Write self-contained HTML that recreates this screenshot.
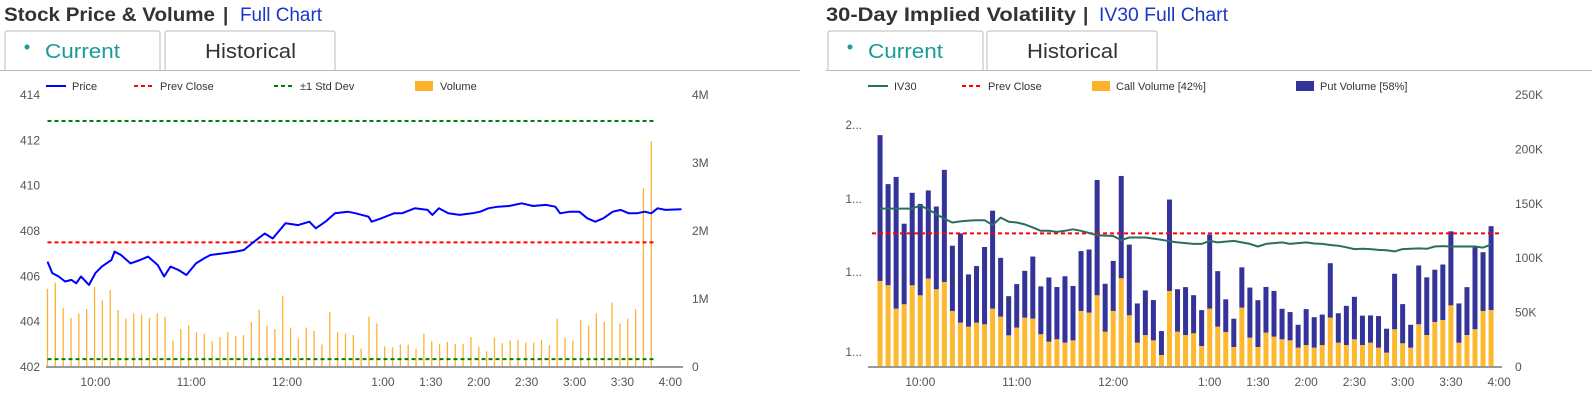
<!DOCTYPE html>
<html><head><meta charset="utf-8">
<style>
body{margin:0;background:#fff;font-family:"Liberation Sans",sans-serif;}
svg{display:block}
text{font-family:"Liberation Sans",sans-serif;}
</style></head>
<body>
<svg id="s" width="1592" height="401" xmlns="http://www.w3.org/2000/svg">
<g>
<text x="4" y="21" font-size="19" font-weight="bold" fill="#333" textLength="211" lengthAdjust="spacingAndGlyphs">Stock Price &amp; Volume</text>
<text x="223" y="21" font-size="19" font-weight="bold" fill="#333">|</text>
<text x="240" y="21" font-size="19" fill="#1a37c5" textLength="82" lengthAdjust="spacingAndGlyphs">Full Chart</text>
<path d="M5 70 V33 a2 2 0 0 1 2 -2 H158 a2 2 0 0 1 2 2 V70" fill="#fff" stroke="#bbb"/>
<circle cx="27" cy="47" r="2.5" fill="#1a9a9a"/>
<text x="45" y="58" font-size="20" fill="#1a9a9a" textLength="75" lengthAdjust="spacingAndGlyphs">Current</text>
<path d="M165 70 V33 a2 2 0 0 1 2 -2 H333 a2 2 0 0 1 2 2 V70" fill="#fff" stroke="#bbb"/>
<text x="205" y="58" font-size="20" fill="#333" textLength="91" lengthAdjust="spacingAndGlyphs">Historical</text>
<line x1="0" y1="70.5" x2="800" y2="70.5" stroke="#bbb"/>
</g>
<g>
<text x="826" y="21" font-size="19" font-weight="bold" fill="#333" textLength="250" lengthAdjust="spacingAndGlyphs">30-Day Implied Volatility</text>
<text x="1083" y="21" font-size="19" font-weight="bold" fill="#333">|</text>
<text x="1099" y="21" font-size="19" fill="#1a37c5" textLength="129" lengthAdjust="spacingAndGlyphs">IV30 Full Chart</text>
<path d="M828 70 V33 a2 2 0 0 1 2 -2 H981 a2 2 0 0 1 2 2 V70" fill="#fff" stroke="#bbb"/>
<circle cx="850" cy="47" r="2.5" fill="#1a9a9a"/>
<text x="868" y="58" font-size="20" fill="#1a9a9a" textLength="75" lengthAdjust="spacingAndGlyphs">Current</text>
<path d="M987 70 V33 a2 2 0 0 1 2 -2 H1155 a2 2 0 0 1 2 2 V70" fill="#fff" stroke="#bbb"/>
<text x="1027" y="58" font-size="20" fill="#333" textLength="91" lengthAdjust="spacingAndGlyphs">Historical</text>
<line x1="826" y1="70.5" x2="1592" y2="70.5" stroke="#bbb"/>
</g>
<g>
<line x1="46" y1="86" x2="66" y2="86" stroke="#0000ff" stroke-width="2"/>
<text x="72" y="90" font-size="11" fill="#333">Price</text>
<line x1="134" y1="86" x2="154" y2="86" stroke="#ff0000" stroke-width="2" stroke-dasharray="4,3"/>
<text x="160" y="90" font-size="11" fill="#333">Prev Close</text>
<line x1="274" y1="86" x2="294" y2="86" stroke="#008000" stroke-width="2" stroke-dasharray="4,3"/>
<text x="300" y="90" font-size="11" fill="#333">±1 Std Dev</text>
<rect x="415" y="81" width="18" height="10" fill="#fdb12c"/>
<text x="440" y="90" font-size="11" fill="#333">Volume</text>
</g>
<g>
<line x1="868" y1="86" x2="888" y2="86" stroke="#2a6e62" stroke-width="2"/>
<text x="894" y="90" font-size="11" fill="#333">IV30</text>
<line x1="962" y1="86" x2="982" y2="86" stroke="#ff0000" stroke-width="2" stroke-dasharray="4,3"/>
<text x="988" y="90" font-size="11" fill="#333">Prev Close</text>
<rect x="1092" y="81" width="18" height="10" fill="#fdb12c"/>
<text x="1116" y="90" font-size="11" fill="#333">Call Volume [42%]</text>
<rect x="1296" y="81" width="18" height="10" fill="#33339a"/>
<text x="1320" y="90" font-size="11" fill="#333">Put Volume [58%]</text>
</g>
<g id="left"></g>
<g id="right"></g>
</svg>
<script>
// ---- Stock chart data ----
const priceTicks = [402,404,406,408,410,412,414];
const volTickLabels = ['0','1M','2M','3M','4M'];
const timeLabels = ['10:00','11:00','12:00','1:00','1:30','2:00','2:30','3:00','3:30','4:00'];
const timeLabelMinutes = [30,90,150,210,240,270,300,330,360,390];
const priceMinutes = [0,3,7,11,15,18,21,26,30,34,40,42,46,52,58,63,69,73,77,82,87,93,98,102,110,118,123,128,136,141,149,157,164,168,174,180,188,193,201,203,209,217,222,230,238,241,245,251,258,266,271,276,282,289,297,304,312,318,321,327,333,338,343,348,354,359,364,369,374,378,382,387,397];
const prices = [406.65,406.14,405.99,405.77,405.84,405.69,405.99,405.62,406.14,406.43,406.72,407.09,406.94,406.57,406.72,406.87,406.50,405.99,406.43,406.28,406.06,406.57,406.79,406.94,407.01,407.09,407.16,407.45,407.89,407.67,408.34,408.26,408.41,408.12,408.41,408.78,408.85,408.78,408.63,408.41,408.56,408.78,408.78,409.00,408.93,408.71,409.00,408.78,408.71,408.78,408.85,409.00,409.07,409.10,409.22,409.10,409.15,409.07,408.78,408.85,408.85,408.56,408.41,408.56,408.85,408.93,408.78,408.78,408.85,408.78,409.00,408.93,408.96];
const volumeM = [1.15,1.24,0.87,0.72,0.79,0.85,1.18,0.98,1.13,0.84,0.71,0.79,0.77,0.72,0.79,0.74,0.39,0.56,0.61,0.51,0.49,0.38,0.44,0.51,0.46,0.47,0.66,0.84,0.61,0.56,1.05,0.58,0.42,0.58,0.53,0.33,0.81,0.51,0.49,0.47,0.27,0.74,0.64,0.30,0.29,0.33,0.33,0.27,0.49,0.38,0.34,0.37,0.34,0.34,0.44,0.30,0.23,0.43,0.35,0.39,0.40,0.36,0.36,0.40,0.32,0.71,0.43,0.39,0.69,0.61,0.79,0.66,0.95,0.64,0.71,0.85,2.63,3.32];
const volumeIntervalMin = 4.91;
const prevClose = 407.5;
const stdUpper = 412.85, stdLower = 402.35;
const refLineEndMin = 381;

// ---- IV chart data ----
const ivTickLabels = ['2...','1...','1...','1...'];
const ivTickValues = [20,18,16,14];
const optVolTickLabels = ['0','50K','100K','150K','200K','250K'];
const callVolK = [79.1,75.1,53.7,57.7,75.1,65.9,81.3,71.5,78.2,51.5,40.8,37.1,40.8,39.3,53.7,46.3,29.1,36.2,45.4,44.5,30.1,23.3,25.5,22.4,24.5,51.5,50.0,65.9,32.5,51.5,81.6,47.5,22.4,29.4,24.5,11.0,69.9,32.5,29.4,31.0,19.3,53.7,37.1,32.2,18.4,54.6,27.0,18.4,31.6,27.9,25.5,24.5,17.8,20.2,17.8,20.2,45.4,22.4,20.2,25.5,20.2,22.4,17.8,13.2,34.7,21.8,17.8,39.3,29.4,41.4,43.2,56.7,22.4,29.4,34.7,51.5,52.4];
const putVolK = [134,93,121,74,85,84,81,76,103,60,82,48,52,71,90,54,36,40,43,57,44,59,48,61,50,55,58,106,44,46,94,65,36,41,37,22,84,39,44,35,33,68,51,30,26,37,46,43,42,42,28,26,21,33,28,28,50,27,36,39,27,25,29,22,51,36,21,54,53,48,51,68,36,44,76,54,77];
const iv30 = [17.77,17.77,17.77,17.77,17.77,17.85,17.75,17.62,17.5,17.40,17.43,17.45,17.46,17.46,17.33,17.53,17.42,17.40,17.35,17.27,17.18,17.18,17.15,17.18,17.22,17.18,17.12,17.06,17.05,17.04,16.93,17.00,17.00,17.00,16.97,16.94,16.90,16.87,16.85,16.83,16.83,16.91,16.87,16.89,16.91,16.87,16.83,16.76,16.83,16.85,16.87,16.83,16.85,16.87,16.84,16.83,16.80,16.78,16.74,16.69,16.70,16.69,16.67,16.66,16.63,16.69,16.70,16.71,16.70,16.76,16.77,16.76,16.76,16.76,16.76,16.73,16.81];
const ivPrevClose = 17.11;
const ivTickY = [125,199,272,352];

const NS='http://www.w3.org/2000/svg';
function mk(parent,tag,attrs){const e=document.createElementNS(NS,tag);for(const k in attrs)e.setAttribute(k,attrs[k]);parent.appendChild(e);return e;}

// ---- left chart ----
const L=document.getElementById('left');
const lx=m=>47.5+m*1.597;
const ly=p=>367-(p-402)*22.67;
const lv=v=>367-v*68;
priceTicks.forEach((t,i)=>{const e=mk(L,'text',{x:40,y:ly(t)+4,'font-size':12,fill:'#555','text-anchor':'end'});e.textContent=t;

});
volTickLabels.forEach((t,i)=>{const e=mk(L,'text',{x:692,y:lv(i)+4,'font-size':12,fill:'#555'});e.textContent=t;

});
volumeM.forEach((v,i)=>{const x=lx(i*volumeIntervalMin);const e=mk(L,'line',{x1:x,x2:x,y1:367,y2:lv(v),stroke:'#fdb12c','stroke-width':1.3});

});
[[stdUpper,'std-dev-upper'],[stdLower,'std-dev-lower']].forEach(([v,n])=>{const e=mk(L,'line',{x1:lx(0),x2:lx(refLineEndMin),y1:ly(v),y2:ly(v),stroke:'#008000','stroke-width':2,'stroke-dasharray':'4,3'});

});
{const e=mk(L,'line',{x1:lx(0),x2:lx(refLineEndMin),y1:ly(prevClose),y2:ly(prevClose),stroke:'#ff0000','stroke-width':2,'stroke-dasharray':'4,3'});

}
{const d=prices.map((p,i)=>(i?'L':'M')+lx(priceMinutes[i]).toFixed(1)+' '+ly(p).toFixed(1)).join(' ');
const e=mk(L,'path',{d:d,fill:'none',stroke:'#0000ff','stroke-width':2,'stroke-linejoin':'round'});

}
{const e=mk(L,'line',{x1:46,x2:683,y1:367,y2:367,stroke:'#999','stroke-width':2});

}
timeLabels.forEach((t,i)=>{const e=mk(L,'text',{x:lx(timeLabelMinutes[i]),y:386,'font-size':12,fill:'#555','text-anchor':'middle'});e.textContent=t;

});

// ---- right chart ----
const R=document.getElementById('right');
const rx=m=>872+m*1.608;
const rv=k=>367-k*1.088;
const ri=v=>125+(20-v)*37.5;
optVolTickLabels.forEach((t,i)=>{const e=mk(R,'text',{x:1515,y:rv(i*50)+4,'font-size':12,fill:'#555'});e.textContent=t;

});
ivTickLabels.forEach((t,i)=>{const e=mk(R,'text',{x:862,y:ivTickY[i]+4,'font-size':12,fill:'#555','text-anchor':'end'});e.textContent=t;

});
callVolK.forEach((c,i)=>{const x=rx(5+i*5)-2.5;const p=putVolK[i];
const a=mk(R,'rect',{x:x,y:rv(c),width:5,height:367-rv(c),fill:'#fdb830'});


const b=mk(R,'rect',{x:x,y:rv(c+p),width:5,height:rv(c)-rv(c+p),fill:'#33339a'});

});
{const e=mk(R,'line',{x1:872,x2:1500,y1:ri(ivPrevClose),y2:ri(ivPrevClose),stroke:'#ff0000','stroke-width':2,'stroke-dasharray':'4,3'});

}
{const d=iv30.map((v,i)=>(i?'L':'M')+rx(5+i*5).toFixed(1)+' '+ri(v).toFixed(1)).join(' ');
const e=mk(R,'path',{d:d,fill:'none',stroke:'#2a6e62','stroke-width':2,'stroke-linejoin':'round'});

}
{const e=mk(R,'line',{x1:868,x2:1502,y1:367,y2:367,stroke:'#999','stroke-width':2});

}
timeLabels.forEach((t,i)=>{const e=mk(R,'text',{x:rx(timeLabelMinutes[i]),y:386,'font-size':12,fill:'#555','text-anchor':'middle'});e.textContent=t;

});
</script>
</body></html>
